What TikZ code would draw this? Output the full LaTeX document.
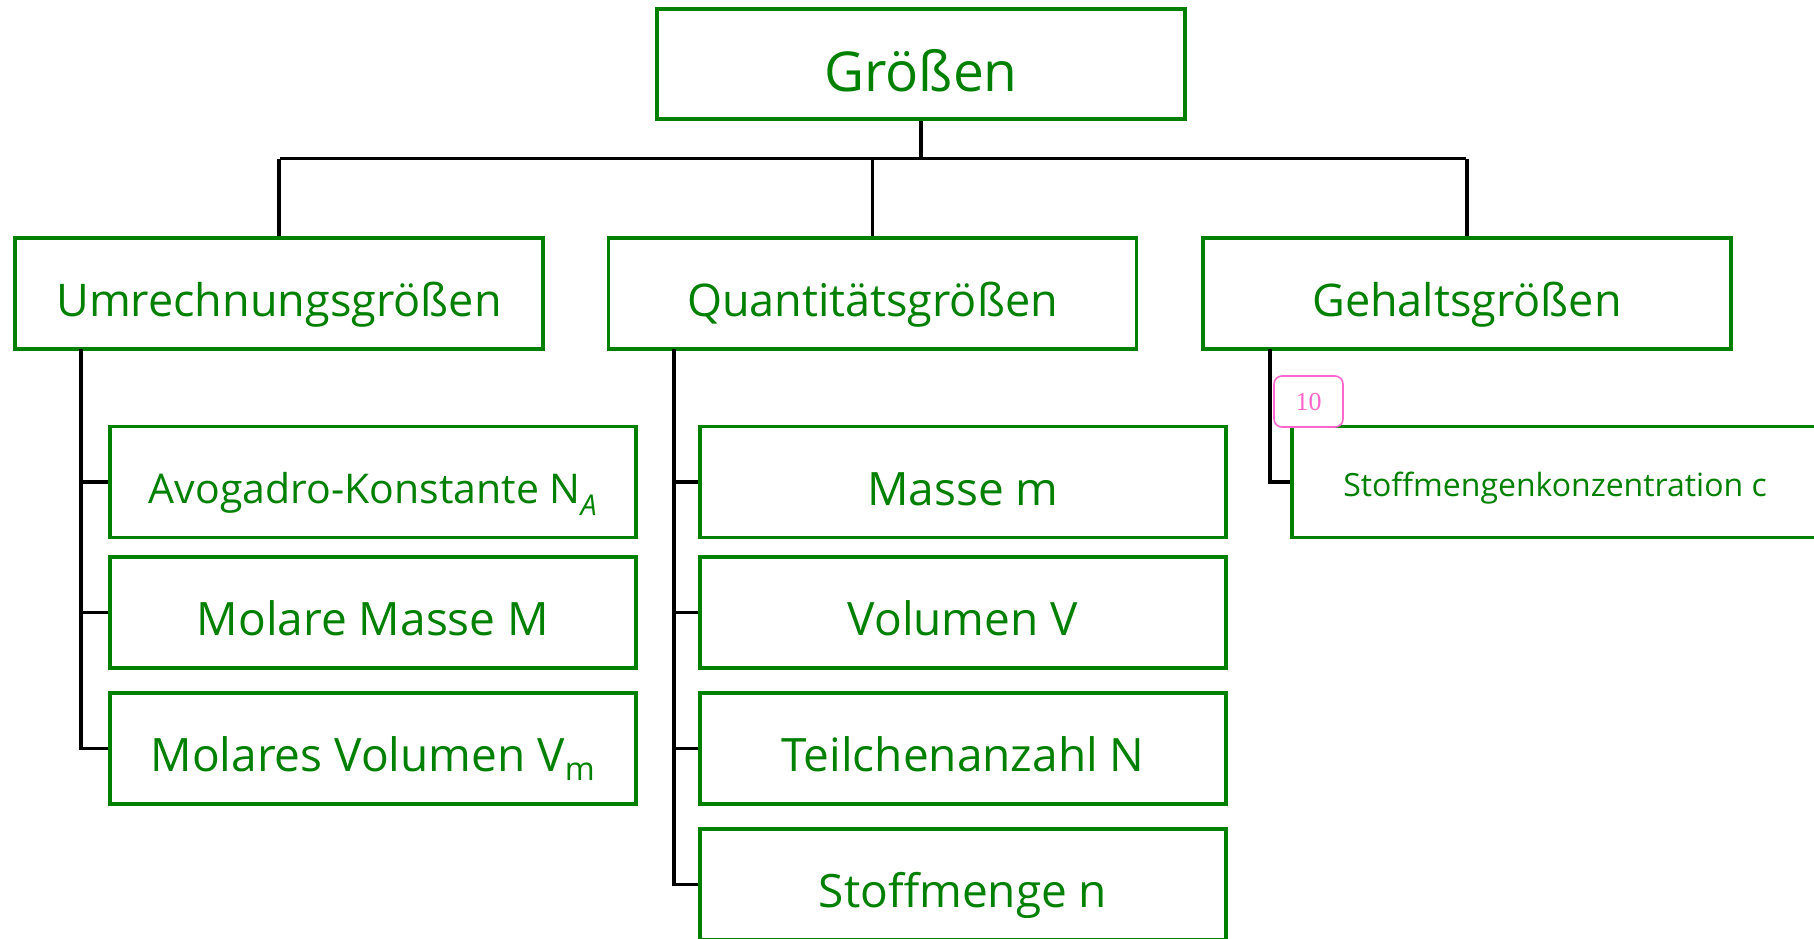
\documentclass[tikz,border=0pt]{standalone}
\usepackage{fontspec}
\setmainfont{Open Sans}
\newfontfamily\numfont{Liberation Serif}
\definecolor{boxgreen}{HTML}{008000}
\definecolor{tagpink}{HTML}{FF66CC}
\begin{document}
\begin{tikzpicture}[x=1pt,y=-1pt,
  box/.style={draw=boxgreen, line width=3.2pt, text=boxgreen, rectangle,
    inner sep=0pt, minimum width=526pt, minimum height=111pt, align=center,
    text depth=0pt},
  toplevel/.style={box, font=\fontsize{55}{64}\selectfont, text height=55pt,
    minimum width=528pt, minimum height=110pt},
  midlevel/.style={box, font=\fontsize{45}{54}\selectfont, text height=45pt, minimum width=528pt},
  leaf/.style={box, font=\fontsize{46}{54}\selectfont, text height=46pt},
  smallleaf/.style={box, font=\fontsize{32}{38}\selectfont, text height=29pt},
  conn/.style={draw=black, line width=3.4pt},
  tag/.style={draw=tagpink, line width=1.6pt, rounded corners=8pt, text=tagpink,
    minimum width=69pt, minimum height=51pt, inner sep=0pt, font=\numfont\fontsize{26}{30}\selectfont}]
\useasboundingbox (0,0) rectangle (1814,938);

% tree
\node[toplevel] (g) at (921,64) {Größen};

\node[midlevel] (u) at (279,293.5) {Umrechnungsgrößen};
\node[midlevel] (q) at (872.5,293.5) {Quantitätsgrößen};
\node[midlevel] (h) at (1467,293.5) {Gehaltsgrößen};

\node[leaf, font=\fontsize{41}{48}\selectfont, text height=43pt] (na) at (373,482) {Avogadro-Konstante N\textsubscript{\textit{A}}};
\node[leaf] (mm) at (373,612.5) {Molare Masse M};
\node[leaf] (vm) at (373,748.5) {Molares Volumen V\textsubscript{m}};

\node[leaf] (ma) at (963,482) {Masse m};
\node[leaf] (vo) at (963,612.5) {Volumen V};
\node[leaf] (tn) at (963,748.5) {Teilchenanzahl N};
\node[leaf] (sn) at (963,884.5) {Stoffmenge n};

\node[smallleaf] (sk) at (1555,482) {Stoffmengenkonzentration c};

% bus below the root
\coordinate (busL) at (280,158.5);
\coordinate (busR) at (1466,158.5);
\draw[conn] (busL) -- (busR);
\draw[conn] (g.south) -- (g.south |- busL);
\draw[conn] (u.north) -- (u.north |- busL);
\draw[conn] (q.north) -- (q.north |- busL);
\draw[conn] (h.north) -- (h.north |- busL);

% side trunks
\coordinate (ut) at (81,349);
\draw[conn] (ut) |- (vm.west);
\draw[conn] (ut |- na.west) -- (na.west);
\draw[conn] (ut |- mm.west) -- (mm.west);

\coordinate (qt) at (674,349);
\draw[conn] (qt) |- (sn.west);
\draw[conn] (qt |- ma.west) -- (ma.west);
\draw[conn] (qt |- vo.west) -- (vo.west);
\draw[conn] (qt |- tn.west) -- (tn.west);

\coordinate (ht) at (1270,349);
\draw[conn] (ht) |- (sk.west);

% page marker
\node[tag, fill=white] (pg) at (1308.5,401.5) {10};
\end{tikzpicture}
\end{document}
